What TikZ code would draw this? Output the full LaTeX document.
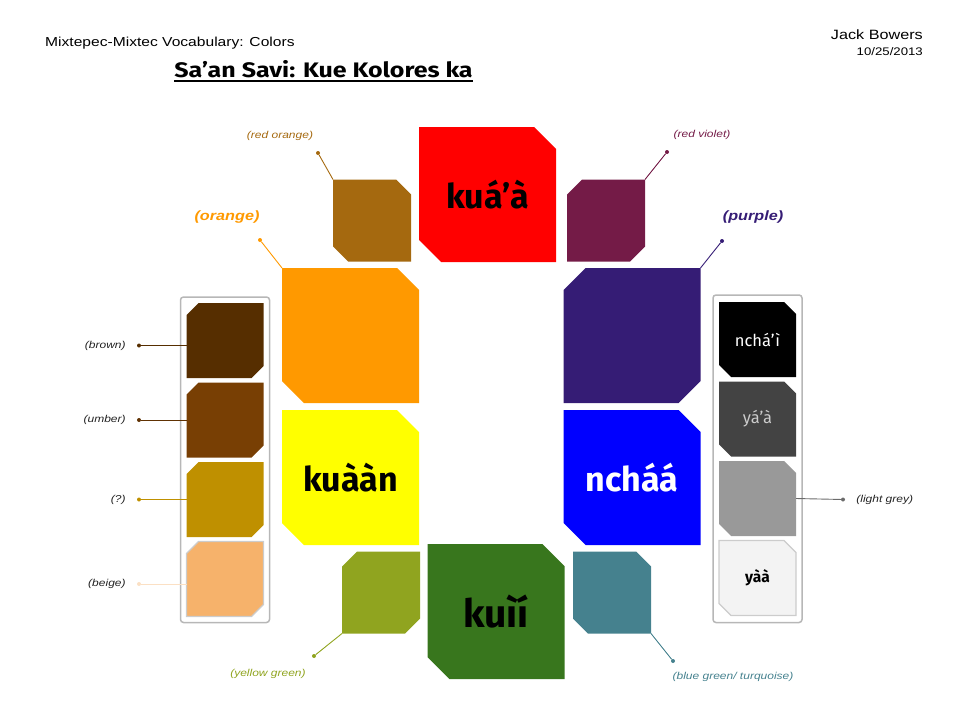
\documentclass[tikz,border=0pt]{standalone}
\usepackage{fontspec}
\setmainfont{Liberation Sans}[FakeStretch=1.2]
\newfontfamily\tilefont{Fira Sans}
\newfontfamily\titlefont{Fira Sans}[FakeStretch=1.19]
\usetikzlibrary{positioning,fit}
\newcommand\titleline[1]{\setbox0=\hbox{#1}\rlap{\rule[-4.8pt]{\wd0}{1.8pt}}\box0}
\definecolor{redorange}{HTML}{A5690F}
\definecolor{kuaared}{HTML}{FF0000}
\definecolor{redviolet}{HTML}{741B47}
\definecolor{orangetone}{HTML}{FF9900}
\definecolor{purpletone}{HTML}{351C75}
\definecolor{yellowtone}{HTML}{FFFF00}
\definecolor{bluetone}{HTML}{0000FF}
\definecolor{yellowgreen}{HTML}{90A41F}
\definecolor{greentone}{HTML}{38761D}
\definecolor{bluegreen}{HTML}{45818E}
\definecolor{browntone}{HTML}{562E00}
\definecolor{umbertone}{HTML}{783F04}
\definecolor{ochretone}{HTML}{BF9000}
\definecolor{beigetone}{HTML}{F6B26B}
\definecolor{darkgreytone}{HTML}{434343}
\definecolor{lightgreytone}{HTML}{999999}
\definecolor{whitetone}{HTML}{F3F3F3}
\definecolor{rim}{HTML}{CCCCCC}
\definecolor{framegrey}{HTML}{B7B7B7}
\definecolor{labelgrey}{HTML}{222222}

% square tiles with two opposite corners cut off
\makeatletter
\newdimen\tileL \newdimen\tileR \newdimen\tileT \newdimen\tileB \newdimen\tileC
\pgfkeys{/pgf/tile cut/.initial=12pt}
\def\tile@box{%
  \pgfmathsetlength\tileC{\pgfkeysvalueof{/pgf/tile cut}}%
  \southwest \tileL=\pgf@x \tileB=\pgf@y
  \northeast \tileR=\pgf@x \tileT=\pgf@y}
\def\tile@anchors{%
  \inheritsavedanchors[from=rectangle]%
  \inheritanchorborder[from=rectangle]%
  \inheritanchor[from=rectangle]{center}%
  \inheritanchor[from=rectangle]{text}%
  \inheritanchor[from=rectangle]{base}%
  \inheritanchor[from=rectangle]{mid}%
  \inheritanchor[from=rectangle]{north}%
  \inheritanchor[from=rectangle]{south}%
  \inheritanchor[from=rectangle]{east}%
  \inheritanchor[from=rectangle]{west}%
  \inheritanchor[from=rectangle]{north east}%
  \inheritanchor[from=rectangle]{north west}%
  \inheritanchor[from=rectangle]{south east}%
  \inheritanchor[from=rectangle]{south west}%
  \inheritanchor[from=rectangle]{mid east}%
  \inheritanchor[from=rectangle]{mid west}%
  \inheritanchor[from=rectangle]{base east}%
  \inheritanchor[from=rectangle]{base west}}
\pgfdeclareshape{tilene}{%
  \tile@anchors
  \backgroundpath{%
    \tile@box
    \pgfpathmoveto{\pgfqpoint{\tileL}{\tileT}}%
    \pgfpathlineto{\pgfqpoint{\dimexpr\tileR-\tileC}{\tileT}}%
    \pgfpathlineto{\pgfqpoint{\tileR}{\dimexpr\tileT-\tileC}}%
    \pgfpathlineto{\pgfqpoint{\tileR}{\tileB}}%
    \pgfpathlineto{\pgfqpoint{\dimexpr\tileL+\tileC}{\tileB}}%
    \pgfpathlineto{\pgfqpoint{\tileL}{\dimexpr\tileB+\tileC}}%
    \pgfpathclose}}
\pgfdeclareshape{tilenw}{%
  \tile@anchors
  \backgroundpath{%
    \tile@box
    \pgfpathmoveto{\pgfqpoint{\dimexpr\tileL+\tileC}{\tileT}}%
    \pgfpathlineto{\pgfqpoint{\tileR}{\tileT}}%
    \pgfpathlineto{\pgfqpoint{\tileR}{\dimexpr\tileB+\tileC}}%
    \pgfpathlineto{\pgfqpoint{\dimexpr\tileR-\tileC}{\tileB}}%
    \pgfpathlineto{\pgfqpoint{\tileL}{\tileB}}%
    \pgfpathlineto{\pgfqpoint{\tileL}{\dimexpr\tileT-\tileC}}%
    \pgfpathclose}}
\makeatother

\tikzset{
  tile/.style={inner sep=0pt,outer sep=0pt,align=center},
  cutne/.style={shape=tilene},
  cutnw/.style={shape=tilenw},
  bigtile/.style={tile,minimum width=137pt,minimum height=135pt,/pgf/tile cut=22pt,font=\tilefont\bfseries\fontsize{34}{34}\selectfont},
  smalltile/.style={tile,minimum width=78pt,minimum height=82pt,/pgf/tile cut=15pt},
  swatch/.style={tile,minimum width=77pt,minimum height=75pt,/pgf/tile cut=12pt,font=\tilefont\fontsize{16.5}{16.5}\selectfont},
  tray/.style={draw=framegrey,line width=1.5pt,rounded corners=3pt,inner sep=6pt},
  leaddot/.style={circle,inner sep=0pt,minimum size=4pt},
  leader/.style={line width=0.9pt},
  lbl/.style={inner sep=0pt,font=\itshape\fontsize{10}{10}\selectfont},
  biglbl/.style={inner sep=0pt,font=\bfseries\itshape\fontsize{13.5}{13.5}\selectfont}
}
\begin{document}
\begin{tikzpicture}[x=1pt,y=-1pt]
\useasboundingbox (0,0) rectangle (960,720);
% heading
\node[anchor=base west,inner sep=0pt,font=\fontsize{13}{13}\selectfont] (subject) at (45,46) {Mixtepec-Mixtec Vocabulary: Colors};
\node[anchor=base east,inner sep=0pt,font=\fontsize{13.5}{13.5}\selectfont] (author) at (923,39) {Jack Bowers};
\node[anchor=base east,inner sep=0pt,font=\fontsize{11}{11}\selectfont] (date) at (923,55) {10/25/2013};
\node[anchor=base,inner sep=0pt,font=\titlefont\bfseries\fontsize{21}{21}\selectfont] (title) at (323.5,77) {\titleline{Sa’an Savi: Kue Kolores ka}};

% ring of colour tiles
\node[bigtile,cutne,fill=kuaared] (kuaa) at (487.5,194.5) {kuá’à};
\node[smalltile,cutne,fill=redorange] (redorangetile) at (372,220.5) {};
\node[smalltile,cutnw,fill=redviolet] (redviolettile) at (606,220.5) {};
\node[bigtile,cutne,fill=orangetone] (orangetile) at (350.5,335.5) {};
\node[bigtile,cutnw,fill=purpletone] (purpletile) at (632,335.5) {};
\node[bigtile,cutne,fill=yellowtone] (kuaan) at (350.5,477.5) {kuààn};
\node[bigtile,cutne,fill=bluetone,text=white] (nchaa) at (632,477.5) {ncháá};
\node[smalltile,cutnw,fill=yellowgreen] (yellowgreentile) at (381,592.5) {};
\node[bigtile,cutne,fill=greentone,font=\tilefont\bfseries\fontsize{39}{39}\selectfont] (kuii) at (496,611.5) {kuìí};
\node[smalltile,cutne,fill=bluegreen] (bluegreentile) at (612,592.5) {};

% browns
\node[swatch,cutnw,fill=browntone] (brown) at (225,340.5) {};
\node[swatch,cutnw,fill=umbertone,below=4.5pt of brown] (umber) {};
\node[swatch,cutnw,fill=ochretone,below=4.5pt of umber] (ochre) {};
\node[swatch,cutnw,fill=beigetone,draw=rim,line width=1.2pt,below=4.5pt of ochre] (beige) {};
\node[tray,fit=(brown)(beige)] (lefttray) {};

% greys
\node[swatch,cutne,fill=black,text=white] (ncha) at (757.5,339.5) {nchá’ì};
\node[swatch,cutne,fill=darkgreytone,text=rim,below=4.5pt of ncha] (yaa) {yá’à};
\node[swatch,cutne,fill=lightgreytone,below=4.5pt of yaa] (lightgrey) {};
\node[swatch,cutne,fill=whitetone,draw=rim,line width=1.2pt,font=\tilefont\bfseries\fontsize{15.5}{15.5}\selectfont,below=4.5pt of lightgrey] (yaaa) {yàà};
\node[tray,fit=(ncha)(yaaa),inner ysep=7pt] (righttray) {};

% leaders and english glosses
\node[leaddot,fill=redorange] (d-ro) at (318,153) {};
\draw[leader,redorange] (redorangetile.north west) -- (d-ro);
\node[lbl,text=redorange] (l-ro) at (280,136) {(red orange)};
\node[leaddot,fill=orangetone] (d-or) at (260,240) {};
\draw[leader,orangetone] (orangetile.north west) -- (d-or);
\node[biglbl,text=orangetone] (l-or) at (227,217) {(orange)};
\node[leaddot,fill=redviolet] (d-rv) at (667,152) {};
\draw[leader,redviolet] (redviolettile.north east) -- (d-rv);
\node[lbl,text=redviolet] (l-rv) at (702,135) {(red violet)};
\node[leaddot,fill=purpletone] (d-pu) at (722,241) {};
\draw[leader,purpletone] (purpletile.north east) -- (d-pu);
\node[biglbl,text=purpletone] (l-pu) at (753,217) {(purple)};
\node[leaddot,fill=yellowgreen] (d-yg) at (314,656) {};
\draw[leader,yellowgreen] (yellowgreentile.south west) -- (d-yg);
\node[lbl,text=yellowgreen] (l-yg) at (268,674) {(yellow green)};
\node[leaddot,fill=bluegreen] (d-bg) at (673,661) {};
\draw[leader,bluegreen] (bluegreentile.south east) -- (d-bg);
\node[lbl,text=bluegreen] (l-bg) at (733,677) {(blue green/ turquoise)};

\node[leaddot,fill=browntone] (d-br) at (139,345.5) {};
\draw[leader,browntone] (d-br) -- (d-br -| brown.west);
\node[lbl,text=labelgrey,left=11pt of d-br] (l-br) {(brown)};
\node[leaddot,fill=umbertone!80!black] (d-um) at (139,420) {};
\draw[leader,umbertone!80!black] (d-um) -- (d-um -| umber.west);
\node[lbl,text=labelgrey,left=11pt of d-um] (l-um) {(umber)};
\node[leaddot,fill=ochretone] (d-oc) at (139,499.5) {};
\draw[leader,ochretone] (d-oc) -- (d-oc -| ochre.west);
\node[lbl,text=labelgrey,left=11pt of d-oc] (l-oc) {(?)};
\node[leaddot,fill=beigetone!40] (d-be) at (139,584) {};
\draw[leader,beigetone!40] (d-be) -- (d-be -| beige.west);
\node[lbl,text=labelgrey,left=11pt of d-be] (l-be) {(beige)};
\node[leaddot,fill=lightgreytone!70!black] (d-lg) at (843,499.5) {};
\draw[leader,lightgreytone!70!black] (lightgrey.east) -- (d-lg);
\node[lbl,text=labelgrey,right=11pt of d-lg] (l-lg) {(light grey)};
\end{tikzpicture}
\end{document}
